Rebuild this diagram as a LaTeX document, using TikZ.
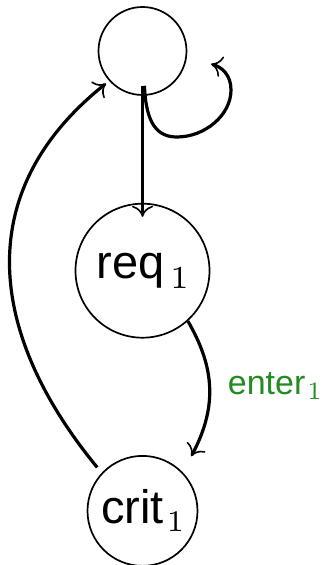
\documentclass[tikz,border=0pt]{standalone}
\usepackage{fontspec}
\setsansfont{Liberation Sans}
\newfontfamily\subfont{lmroman7-regular.otf}
\usetikzlibrary{arrows.meta,positioning}
\definecolor{entergreen}{RGB}{34,139,34}
% serif index set below the baseline
\newcommand{\subnum}[4]{\kern#3\raisebox{-#2}{\subfont\fontsize{#1}{#1}\selectfont #4}}

\begin{document}
\begin{tikzpicture}[x=1pt,y=1pt,
  state/.style={draw,circle,line width=1.7pt,inner sep=0pt,
    font=\sffamily\fontsize{47}{56}\selectfont},
  arr/.style={-{Computer Modern Rightarrow[length=11pt,width=21pt,line width=1.6pt]},
    line width=3.2pt}
]
\useasboundingbox (0,0) rectangle (324,565);
\node[state,minimum size=88pt] (idle) at (142.5,514) {};
\node[state,minimum size=134pt,below=107pt of idle] (req) {req\subnum{32pt}{10pt}{6pt}{1}};
\node[state,minimum size=110pt,below=116.5pt of req] (crit) {crit\subnum{30pt}{8pt}{3pt}{1}};
\coordinate (loopend) at (211,501);

\draw[arr,shorten <=-10pt,shorten >=-14pt] (idle.south) -- (req.north);
\draw[arr,shorten <=-10pt] (idle.-87) .. controls (146,440) and (158,428) .. (177,428)
  .. controls (205,428) and (231,450) .. (231,475)
  .. controls (231,490) and (222,498) .. (loopend);
\draw[arr,shorten >=18pt] (req.-48) .. controls (212,202) and (220,162) .. (crit.44)
  node[pos=0.5,anchor=west,xshift=18pt,inner sep=0pt,text=entergreen,
    font=\sffamily\fontsize{34}{40}\selectfont] (enterlbl) {enter\subnum{25pt}{5pt}{2pt}{1}};
\draw[arr,shorten <=7pt,shorten >=4pt] (crit.137) .. controls (-14,233) and (-28,375) .. (idle.222);
\end{tikzpicture}
\end{document}
